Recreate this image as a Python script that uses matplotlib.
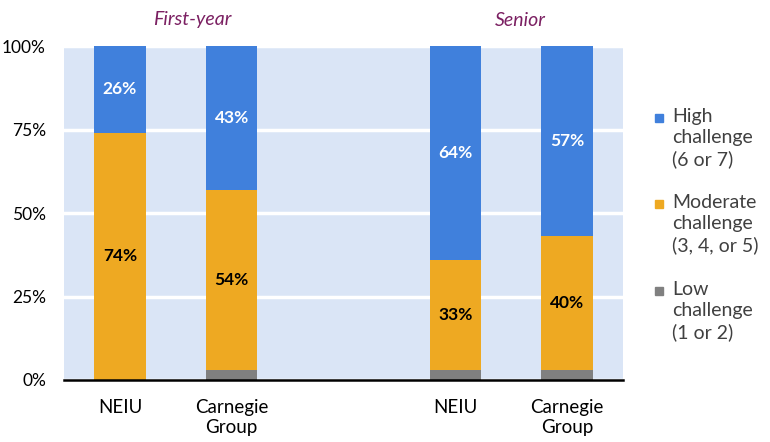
import numpy as np
import matplotlib.pyplot as plt
from matplotlib.patches import Rectangle

plt.rcParams['font.family'] = ['Lato', 'DejaVu Sans']

# Data (percent of students)
categories = ['NEIU', 'Carnegie\nGroup', 'NEIU', 'Carnegie\nGroup']
positions = [0, 1, 3, 4]
low = [0, 3, 3, 3]
moderate = [74, 54, 33, 40]
high = [26, 43, 64, 57]
groups = ['First-year', 'Senior']
series_names = ['High\nchallenge\n(6 or 7)', 'Moderate\nchallenge\n(3, 4, or 5)', 'Low\nchallenge\n(1 or 2)']

c_high = '#4080DC'
c_mod = '#EEA922'
c_low = '#808080'

fig = plt.figure(figsize=(7.7, 4.42), dpi=100)
ax = fig.add_axes([64/770, 1-380/442, (623-64)/770, (380-46)/442])
ax.set_facecolor('#DAE5F6')

low = np.array(low)
moderate = np.array(moderate)
high = np.array(high)
w = 0.46
ax.bar(positions, low, w, color=c_low, zorder=3)
ax.bar(positions, moderate, w, bottom=low, color=c_mod, zorder=3)
ax.bar(positions, high, w, bottom=low+moderate, color=c_high, zorder=3)

# data labels (low challenge not labelled)
for x, l, m, h in zip(positions, low, moderate, high):
    ax.text(x, l + m/2, f'{m}%', ha='center', va='center', fontsize=12.5,
            fontweight='bold', color='black', zorder=4)
    ax.text(x, l + m + h/2, f'{h}%', ha='center', va='center', fontsize=12.5,
            fontweight='bold', color='white', zorder=4)

ax.set_xlim(-0.5, 4.5)
ax.set_ylim(0, 100)
ax.set_yticks([0, 25, 50, 75, 100])
ax.set_yticklabels(['0%', '25%', '50%', '75%', '100%'])
ax.set_xticks(positions)
ax.set_xticklabels(categories, fontsize=13.5, linespacing=1.15)
ax.tick_params(axis='y', labelsize=12.5)
ax.tick_params(axis='both', length=0, colors='black')
ax.tick_params(axis='x', pad=14)
ax.tick_params(axis='y', pad=13)
ax.grid(axis='y', color='white', linewidth=2.5, zorder=1)
for s in ['top', 'right', 'left']:
    ax.spines[s].set_visible(False)
ax.spines['bottom'].set_color('black')
ax.spines['bottom'].set_linewidth(1.8)
ax.spines['bottom'].set_zorder(5)

# group titles
fig.text(192/770, 1-20/442, groups[0], ha='center', va='center', fontsize=14,
         style='italic', color='#7B2062')
fig.text(520/770, 1-20/442, groups[1], ha='center', va='center', fontsize=14,
         style='italic', color='#7B2062')

# legend
centers = [118, 204, 291]
for cy, name, c in zip(centers, series_names, [c_high, c_mod, c_low]):
    fig.patches.append(Rectangle((655/770, 1-(cy+4)/442), 8/770, 8/442,
                                 transform=fig.transFigure, color=c, figure=fig))
    fig.text(672/770, 1-(cy-10)/442, name, ha='left', va='top', fontsize=14,
             color='#404040', linespacing=1.3)

fig.savefig('out.png', dpi=100)
